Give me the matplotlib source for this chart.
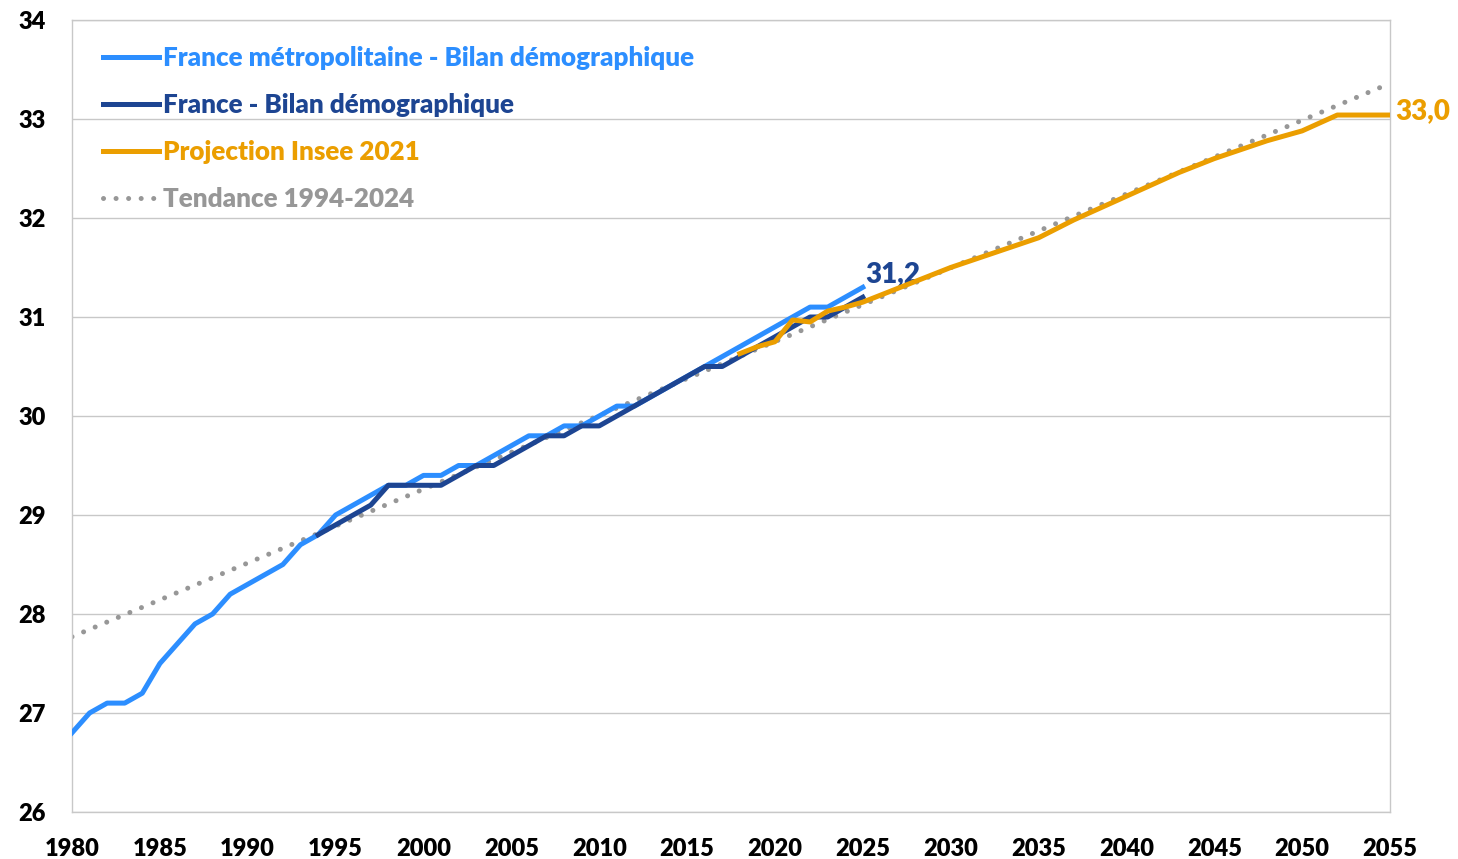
import matplotlib.pyplot as plt
import numpy as np

plt.rcParams['font.family'] = ['Lato', 'DejaVu Sans']

### data ###
years_metro = list(range(1980, 2026))
metro = [26.8, 27.0, 27.1, 27.1, 27.2, 27.5, 27.7, 27.9, 28.0, 28.2,
         28.3, 28.4, 28.5, 28.7, 28.8, 29.0, 29.1, 29.2, 29.3, 29.3,
         29.4, 29.4, 29.5, 29.5, 29.6, 29.7, 29.8, 29.8, 29.9, 29.9,
         30.0, 30.1, 30.1, 30.2, 30.3, 30.4, 30.5, 30.6, 30.7, 30.8,
         30.9, 31.0, 31.1, 31.1, 31.2, 31.3]

years_france = list(range(1994, 2026))
france = [28.8, 28.9, 29.0, 29.1, 29.3, 29.3, 29.3, 29.3, 29.4, 29.5,
          29.5, 29.6, 29.7, 29.8, 29.8, 29.9, 29.9, 30.0, 30.1, 30.2,
          30.3, 30.4, 30.5, 30.5, 30.6, 30.7, 30.8, 30.9, 31.0, 31.0,
          31.1, 31.2]

years_proj = list(range(2018, 2056))
proj = [30.63, 30.70, 30.75, 30.97, 30.95, 31.06, 31.10, 31.15, 31.22, 31.29,
        31.36, 31.43, 31.50, 31.56, 31.62, 31.68, 31.74, 31.80, 31.89, 31.98,
        32.06, 32.14, 32.22, 32.30, 32.38, 32.46, 32.53, 32.60, 32.66, 32.72,
        32.78, 32.83, 32.88, 32.96, 33.04, 33.04, 33.04, 33.04]

years_trend = [1980, 2055]
trend = [27.77, 33.36]

labels = ['France métropolitaine - Bilan démographique', 'France - Bilan démographique',
          'Projection Insee 2021', 'Tendance 1994-2024']
colors = ['#2C8EFF', '#1D4592', '#EB9E00', '#979797']
W = 'heavy'

fig = plt.figure(figsize=(14.58, 8.59), dpi=100)
ax = fig.add_axes([72/1458, 1 - 812/859, (1390-72)/1458, (812-20)/859])

ax.plot(years_trend, trend, color=colors[3], lw=3.6, linestyle=(0, (0.01, 2.5)),
        dash_capstyle='round', label=labels[3], zorder=2)
ax.plot(years_metro, metro, color=colors[0], lw=3.6, label=labels[0], zorder=3)
ax.plot(years_france, france, color=colors[1], lw=3.6, label=labels[1], zorder=4)
ax.plot(years_proj, proj, color=colors[2], lw=3.6, label=labels[2], zorder=5)

ax.text(2025.15, 31.3, '31,2', color=colors[1], fontsize=20, fontweight=W,
        ha='left', va='bottom')
ax.text(2055.3, 33.08, '33,0', color=colors[2], fontsize=20, fontweight=W,
        ha='left', va='center', clip_on=False)

ax.set_xlim(1980, 2055)
ax.set_ylim(26, 34)
ax.set_xticks(range(1980, 2056, 5))
ax.set_yticks(range(26, 35))
ax.tick_params(length=0, labelsize=17)
ax.tick_params(axis='x', pad=19)
ax.tick_params(axis='y', pad=19)
for t in ax.get_xticklabels() + ax.get_yticklabels():
    t.set_fontweight(W)

ax.grid(axis='y', color='#c8c8c8', lw=1)
for s in ax.spines.values():
    s.set_color('#c8c8c8')
    s.set_linewidth(1)
ax.set_axisbelow(True)

h, l = ax.get_legend_handles_labels()
order = [1, 2, 3, 0]
leg = ax.legend([h[i] for i in order], [l[i] for i in order], loc='upper left',
                bbox_to_anchor=(0.0235, 0.967), frameon=False, handlelength=2.15,
                handletextpad=0.15, labelspacing=0.88, borderpad=0, borderaxespad=0,
                prop={'weight': W, 'size': 18.7}, labelcolor='linecolor')

fig.savefig('out.png', dpi=100)
